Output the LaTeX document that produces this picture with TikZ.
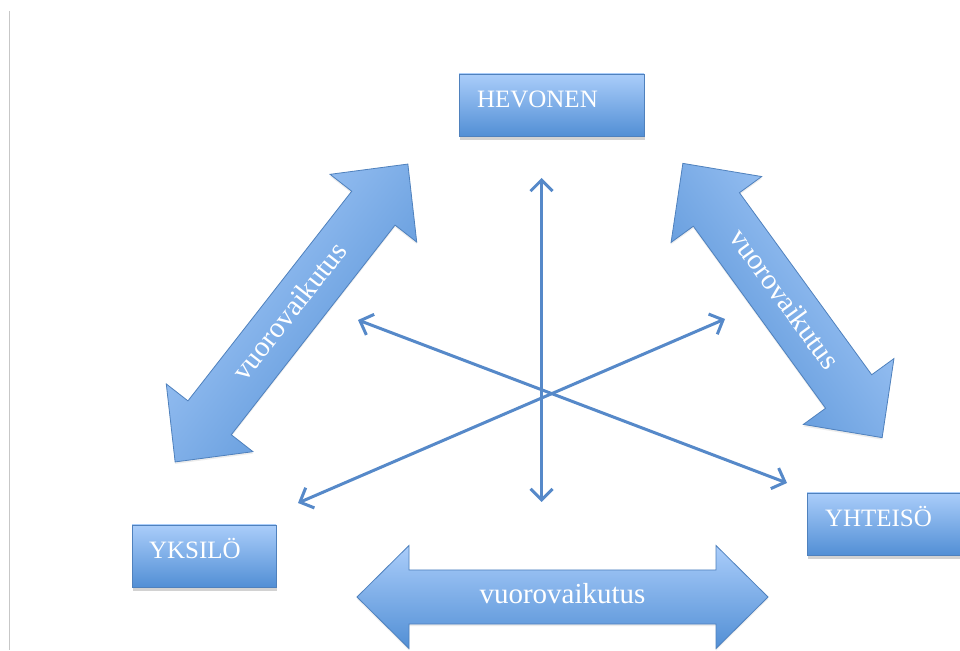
\documentclass[tikz,border=0pt]{standalone}
\usepackage{fontspec}
\setmainfont{Liberation Serif}
\usetikzlibrary{arrows.meta,shadows}
\definecolor{gtop}{RGB}{170,205,250}
\definecolor{gbot}{RGB}{82,143,213}
\definecolor{edgeblue}{RGB}{79,129,189}
\definecolor{rayblue}{RGB}{86,137,201}
\newcommand\dblarr[4]{(-#1/2,0) -- (-#1/2+#4,#2) -- (-#1/2+#4,#3) -- (#1/2-#4,#3) -- (#1/2-#4,#2) -- (#1/2,0) -- (#1/2-#4,-#2) -- (#1/2-#4,-#3) -- (-#1/2+#4,-#3) -- (-#1/2+#4,-#2) -- cycle}
\begin{document}
\begin{tikzpicture}[x=1pt,y=1pt,
  box/.style={draw=edgeblue, line width=0.8pt, top color=gtop, bottom color=gbot,
    minimum height=62pt, inner ysep=0pt, text height=10pt, text depth=4pt,
    align=left, text=white, font=\fontsize{25}{29}\selectfont,
    drop shadow={shadow xshift=1pt, shadow yshift=-4pt, opacity=0.35}},
  blk/.style={draw=edgeblue, line width=0.8pt, top color=gtop, bottom color=gbot,
    drop shadow={shadow xshift=0pt, shadow yshift=-2pt, opacity=0.15}},
  lbl/.style={text=white, font=\fontsize{29}{34}\selectfont, inner sep=0pt, transform shape},
  ray/.style={draw=rayblue, line width=3pt,
    {Straight Barb[length=11pt,width=22pt]}-{Straight Barb[length=11pt,width=22pt]}}
]
\clip (0,0) rectangle (960,650);
\fill[white] (0,0) rectangle (960,650);
\draw[black!22, line width=0.8pt] (9.5,639) -- (9.5,0);

% boxes
\node[box, minimum width=185pt, text width=149pt, inner xsep=18pt] (hev) at (551.5,545) {HEVONEN};
\node[box, minimum width=144pt, text width=110pt, inner xsep=17pt] (yks) at (204,94) {YKSILÖ};
\node[box, minimum width=188pt, text width=152pt, inner xsep=18pt] (yht) at (901,126) {YHTEISÖ};

% block arrows
\begin{scope}[shift={(291.5,337)}, rotate=52]
  \path[blk, shading angle=52] \dblarr{378}{55}{27.5}{56};
  \node[lbl] (lblL) at (0,3) {vuorovaikutus};
\end{scope}
\begin{scope}[shift={(782.5,349.5)}, rotate=-54]
  \path[blk, shading angle=-54] \dblarr{339}{56}{28.5}{57};
  \node[lbl] (lblR) at (0,3) {vuorovaikutus};
\end{scope}
\begin{scope}[shift={(562.5,53)}]
  \path[blk] \dblarr{411}{51.5}{27}{52};
  \node[lbl] (lblB) at (0,3) {vuorovaikutus};
\end{scope}

% rays
\coordinate (vt) at (541.5,472);
\coordinate (vb) at (541.5,148);
\coordinate (ula) at (358,330);
\coordinate (lrb) at (787,167);
\coordinate (lla) at (298,147);
\coordinate (urb) at (725,331);
\draw[ray] (vt) -- (vb);
\draw[ray] (ula) -- (lrb);
\draw[ray] (lla) -- (urb);
\end{tikzpicture}
\end{document}
